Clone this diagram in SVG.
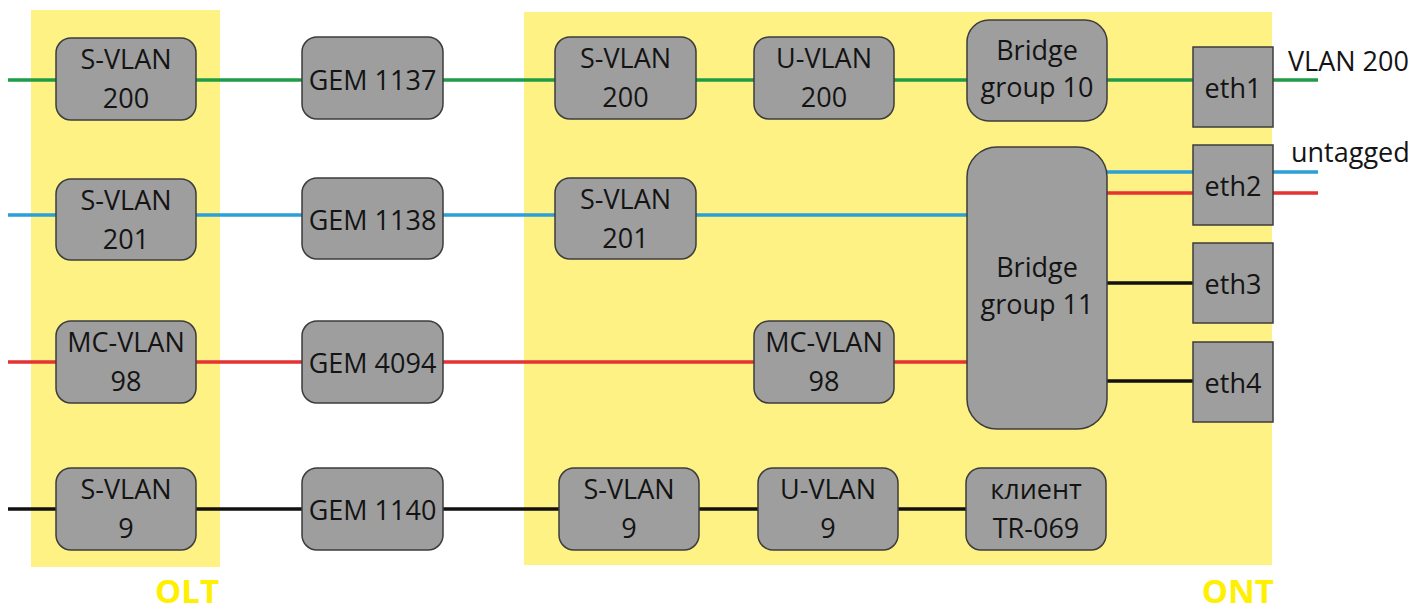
<svg xmlns="http://www.w3.org/2000/svg" width="1413" height="612" viewBox="0 0 1413 612">
<style>
.zone{fill:#FEF284}
.node{fill:#9E9E9E;stroke:#3c3c3c;stroke-width:1.5}
.t{font-family:"Open Sans","Noto Sans",sans-serif;font-size:27px;fill:#141414;text-anchor:middle}
.lbl{font-family:"Open Sans","Noto Sans",sans-serif;font-size:27px;fill:#141414}
.big{font-family:"Open Sans","Noto Sans",sans-serif;font-size:33px;font-weight:bold;fill:#FFEF00;text-anchor:end}
.g{stroke:#1f9c47;stroke-width:3.5;fill:none}
.b{stroke:#2a9fd8;stroke-width:3.5;fill:none}
.r{stroke:#e53232;stroke-width:3.5;fill:none}
.k{stroke:#111;stroke-width:3.5;fill:none}
</style>
<rect width="1413" height="612" fill="#fff"/>
<g id="olt-zone"><rect class="zone" x="31" y="10" width="189" height="557"/><text class="big" x="219" y="603">OLT</text></g>
<g id="ont-zone"><rect class="zone" x="524" y="12" width="748" height="553"/><text class="big" x="1274" y="603">ONT</text></g>
<g id="connectors">
<path class="g" d="M8 80H56M196 80H302M443 80H555M696 80H754M894 80H967M1107 80H1193M1273 80H1318"/>
<path class="b" d="M8 215H56M196 215H302M443 215H555M696 215H967M1107 172H1193M1273 172H1318"/>
<path class="r" d="M8 362H56M196 362H302M443 362H754M894 362H967M1107 193H1193M1273 193H1318"/>
<path class="k" d="M8 509H56M196 509H302M443 509H559M699 509H758M898 509H966M1107 283H1193M1107 381H1193"/>
</g>
<g id="olt-svlan200"><rect class="node" x="56" y="38" width="140" height="82" rx="15"/><text class="t" x="126" y="69">S-VLAN</text><text class="t" x="126" y="108">200</text></g>
<g id="olt-svlan201"><rect class="node" x="56" y="179" width="140" height="81" rx="15"/><text class="t" x="126" y="210">S-VLAN</text><text class="t" x="126" y="249">201</text></g>
<g id="olt-mcvlan98"><rect class="node" x="56" y="321" width="140" height="82" rx="15"/><text class="t" x="126" y="352">MC-VLAN</text><text class="t" x="126" y="391">98</text></g>
<g id="olt-svlan9"><rect class="node" x="56" y="468" width="140" height="82" rx="15"/><text class="t" x="126" y="499">S-VLAN</text><text class="t" x="126" y="538">9</text></g>
<g id="gem1137"><rect class="node" x="302" y="37" width="141" height="82" rx="15"/><text class="t" x="372.5" y="90">GEM 1137</text></g>
<g id="gem1138"><rect class="node" x="302" y="178" width="141" height="81" rx="15"/><text class="t" x="372.5" y="230">GEM 1138</text></g>
<g id="gem4094"><rect class="node" x="302" y="321" width="141" height="82" rx="15"/><text class="t" x="372.5" y="373">GEM 4094</text></g>
<g id="gem1140"><rect class="node" x="302" y="468" width="141" height="82" rx="15"/><text class="t" x="372.5" y="520">GEM 1140</text></g>
<g id="ont-svlan200"><rect class="node" x="555" y="37" width="141" height="82" rx="15"/><text class="t" x="625.5" y="68">S-VLAN</text><text class="t" x="625.5" y="107">200</text></g>
<g id="ont-uvlan200"><rect class="node" x="754" y="37" width="140" height="82" rx="15"/><text class="t" x="824" y="68">U-VLAN</text><text class="t" x="824" y="107">200</text></g>
<g id="bridge10"><rect class="node" x="967" y="20" width="140" height="101" rx="22"/><text class="t" x="1037" y="60">Bridge</text><text class="t" x="1037" y="97">group 10</text></g>
<g id="ont-svlan201"><rect class="node" x="555" y="178" width="141" height="81" rx="15"/><text class="t" x="625.5" y="209">S-VLAN</text><text class="t" x="625.5" y="248">201</text></g>
<g id="bridge11"><rect class="node" x="967" y="147" width="140" height="282" rx="30"/><text class="t" x="1037" y="277">Bridge</text><text class="t" x="1037" y="314">group 11</text></g>
<g id="ont-mcvlan98"><rect class="node" x="754" y="321" width="140" height="82" rx="15"/><text class="t" x="824" y="352">MC-VLAN</text><text class="t" x="824" y="391">98</text></g>
<g id="ont-svlan9"><rect class="node" x="559" y="468" width="140" height="82" rx="15"/><text class="t" x="629" y="499">S-VLAN</text><text class="t" x="629" y="538">9</text></g>
<g id="ont-uvlan9"><rect class="node" x="758" y="468" width="140" height="82" rx="15"/><text class="t" x="828" y="499">U-VLAN</text><text class="t" x="828" y="538">9</text></g>
<g id="tr069"><rect class="node" x="966" y="468" width="140" height="82" rx="15"/><text class="t" x="1036" y="499">клиент</text><text class="t" x="1036" y="538">TR-069</text></g>
<g id="eth1"><rect class="node" x="1193" y="47" width="80" height="80"/><text class="t" x="1233" y="98">eth1</text></g>
<g id="eth2"><rect class="node" x="1193" y="145" width="80" height="80"/><text class="t" x="1233" y="196">eth2</text></g>
<g id="eth3"><rect class="node" x="1193" y="243" width="80" height="80"/><text class="t" x="1233" y="294">eth3</text></g>
<g id="eth4"><rect class="node" x="1193" y="342" width="80" height="80"/><text class="t" x="1233" y="393">eth4</text></g>
<g id="labels"><text class="lbl" x="1288" y="71">VLAN 200</text><text class="lbl" x="1291" y="162">untagged</text></g>
</svg>
